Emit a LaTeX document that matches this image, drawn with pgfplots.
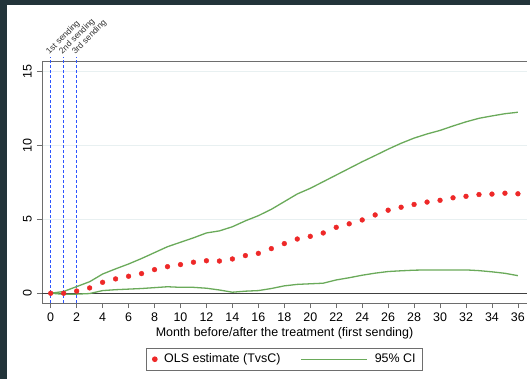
\documentclass[border=0pt]{standalone}
\usepackage{pgfplots}
\pgfplotsset{compat=1.18}
\usepackage{pgfplotstable}
\usepackage{fontspec}
\setmainfont{Liberation Sans}
\definecolor{bgdark}{RGB}{34,52,58}
\definecolor{cigreen}{RGB}{106,170,90}
\definecolor{estred}{RGB}{238,40,40}
\definecolor{lineblue}{RGB}{45,85,255}
\definecolor{axgray}{RGB}{110,110,110}
\definecolor{gridc}{RGB}{232,240,241}
\newcommand{\mainfs}{\fontsize{12.5}{14}\selectfont}
\newcommand{\smallfs}{\fontsize{8.5}{9}\selectfont}

\pgfplotstableread{
m est lo hi
0 0 0 0
1 0 -0.07 0.12
2 0.15 -0.06 0.45
3 0.36 -0.02 0.78
4 0.74 0.18 1.30
5 0.97 0.24 1.65
6 1.15 0.28 1.98
7 1.33 0.32 2.35
8 1.60 0.38 2.75
9 1.80 0.44 3.15
10 1.94 0.40 3.45
11 2.10 0.40 3.75
12 2.20 0.34 4.08
13 2.18 0.22 4.22
14 2.32 0.07 4.50
15 2.55 0.14 4.90
16 2.70 0.18 5.25
17 3.02 0.32 5.68
18 3.36 0.50 6.20
19 3.67 0.60 6.72
20 3.85 0.64 7.10
21 4.08 0.68 7.55
22 4.46 0.90 8.00
23 4.70 1.05 8.45
24 4.96 1.22 8.90
25 5.30 1.36 9.32
26 5.62 1.47 9.75
27 5.82 1.52 10.15
28 6.01 1.56 10.50
29 6.17 1.58 10.78
30 6.29 1.58 11.02
31 6.46 1.58 11.32
32 6.56 1.58 11.60
33 6.68 1.53 11.84
34 6.71 1.45 12.00
35 6.77 1.35 12.15
36 6.73 1.19 12.25
}\datatable

\begin{document}
\begin{tikzpicture}
\fill[bgdark] (0,0) rectangle (530bp,379bp);
\fill[white] (7bp,0) rectangle (530bp,374bp);
\begin{axis}[
  at={(42bp,76bp)}, anchor=south west,
  scale only axis, width=485bp, height=241bp,
  xmin=-0.67, xmax=36.7, ymin=-0.66, ymax=15.65,
  axis x line*=box, axis y line*=left,
  xtick={0,2,...,36}, ytick={0,5,10,15},
  tick pos=left,
  tick align=outside, major tick length=5bp,
  tick style={axgray, line width=0.8bp},
  axis line style={axgray, line width=1bp},
  ymajorgrids, grid style={gridc, line width=1bp},
  /pgf/number format/assume math mode=true,
  ticklabel style={font=\mainfs},
  xticklabel style={yshift=-1.5bp},
  yticklabel style={rotate=90, anchor=south, inner sep=5bp},
  xlabel={Month before/after the treatment (first sending)},
  xlabel style={at={(axis description cs:0.5,-0.141)}, anchor=base, font=\mainfs},
  clip=false,
  legend columns=2,
  legend style={at={(0.5,-0.187)}, anchor=north, draw=axgray, line width=0.8bp,
    inner xsep=5bp, inner ysep=3.5bp, font=\mainfs,
    /tikz/every even column/.append style={column sep=18bp}},
]
% zero line
\draw[black!75, line width=1bp] (axis cs:-0.67,0) -- (axis cs:36.7,0);
% sending lines
\addplot[lineblue, line width=1.2bp, dash pattern=on 3bp off 2bp, forget plot] coordinates {(0,-0.66) (0,16)};
\addplot[lineblue, line width=1.2bp, dash pattern=on 3bp off 2bp, forget plot] coordinates {(1,-0.66) (1,16)};
\addplot[lineblue, line width=1.2bp, dash pattern=on 3bp off 2bp, forget plot] coordinates {(2,-0.66) (2,16)};
\node[rotate=45, anchor=south west, inner sep=0.5bp, font=\smallfs, text=black!80] at (axis cs:0,16) {1st sending};
\node[rotate=45, anchor=south west, inner sep=0.5bp, font=\smallfs, text=black!80] at (axis cs:1,16) {2nd sending};
\node[rotate=45, anchor=south west, inner sep=0.5bp, font=\smallfs, text=black!80] at (axis cs:2,16) {3rd sending};
\addplot[cigreen, line width=1.3bp, forget plot] table[x=m, y=hi] {\datatable};
\addplot[cigreen, line width=1.3bp, forget plot] table[x=m, y=lo] {\datatable};
\addplot[only marks, mark=*, mark size=2.4bp, color=estred, mark options={draw=estred, fill=estred},
  legend image code/.code={\draw plot coordinates {(3bp,0bp)}; \path (0bp,0bp) (10bp,0bp);}] table[x=m, y=est] {\datatable};
\addlegendentry{OLS estimate (TvsC)}
\addlegendimage{cigreen, line width=1.3bp, legend image code/.code={\draw (0bp,0bp) -- (66bp,0bp); \path (71bp,0bp);}}
\addlegendentry{95\% CI}
\end{axis}
\pgfresetboundingbox
\useasboundingbox (0,0) rectangle (530bp,379bp);
\end{tikzpicture}
\end{document}
